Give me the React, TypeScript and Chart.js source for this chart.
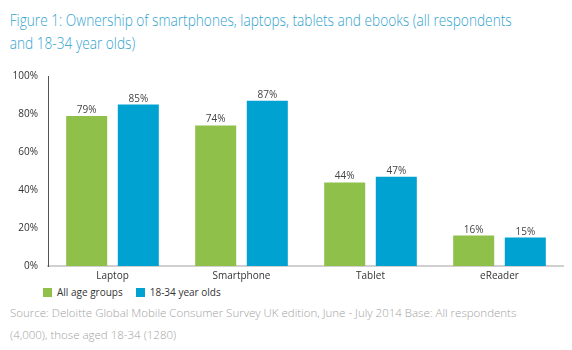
import React, { useEffect, useLayoutEffect, useRef, useState } from "react";
import { Chart, registerables } from "chart.js";

Chart.register(...registerables);

const categories = ["Laptop", "Smartphone", "Tablet", "eReader"];
const allAgeGroups = [79, 74, 44, 16];
const youngAdults = [85, 87, 47, 15];
const seriesNames = ["All age groups", "18-34 year olds"];
const yTicks = [0, 20, 40, 60, 80, 100];
const titleLines = [
  "Figure 1: Ownership of smartphones, laptops, tablets and ebooks (all respondents",
  "and 18-34 year olds)",
];
const sourceText =
  "Source: Deloitte Global Mobile Consumer Survey UK edition, June - July 2014 Base: All respondents (4,000), those aged 18-34 (1280)";

const GREEN = "#8fc04a";
const BLUE = "#00a2d1";
const FONT = "'Open Sans', 'DejaVu Sans', sans-serif";
const TITLE_LINE_WIDTH = 502;

const valueLabels = {
  id: "valueLabels",
  afterDatasetsDraw(chart: any) {
    const ctx = chart.ctx;
    ctx.save();
    ctx.font = `10px ${FONT}`;
    ctx.fillStyle = "#444";
    ctx.textAlign = "center";
    ctx.textBaseline = "alphabetic";
    chart.data.datasets.forEach((ds: any, i: number) => {
      const meta = chart.getDatasetMeta(i);
      meta.data.forEach((el: any, j: number) => {
        ctx.fillText(ds.data[j] + "%", el.x, el.y - 3);
      });
    });
    ctx.restore();
  },
};

export default function App() {
  const ref = useRef<HTMLCanvasElement>(null);
  const lineRef = useRef<HTMLSpanElement>(null);
  const [scale, setScale] = useState(1);

  useLayoutEffect(() => {
    if (lineRef.current) {
      const w = lineRef.current.getBoundingClientRect().width;
      if (w > 0) setScale(TITLE_LINE_WIDTH / w);
    }
  }, []);

  useEffect(() => {
    if (!ref.current) return;
    const chart = new Chart(ref.current, {
      type: "bar",
      data: {
        labels: categories,
        datasets: [
          { label: seriesNames[0], data: allAgeGroups, backgroundColor: GREEN, categoryPercentage: 0.8, barPercentage: 0.795 },
          { label: seriesNames[1], data: youngAdults, backgroundColor: BLUE, categoryPercentage: 0.8, barPercentage: 0.795 },
        ],
      },
      options: {
        animation: false,
        responsive: true,
        maintainAspectRatio: false,
        layout: { padding: { top: 13, right: 0, left: 0, bottom: 0 } },
        plugins: { legend: { display: false }, tooltip: { enabled: false } },
        scales: {
          x: {
            grid: { display: false, drawTicks: false },
            border: { display: true, color: "#d0d0d0", width: 2 },
            ticks: { color: "#333", font: { family: FONT, size: 10 }, padding: 4 },
            afterFit: (s: any) => { s.height = 18; },
          },
          y: {
            min: 0,
            max: 100,
            afterBuildTicks: (s: any) => { s.ticks = yTicks.map((v) => ({ value: v })); },
            grid: { display: false, drawTicks: false },
            border: { display: true, color: "#555", width: 1 },
            ticks: {
              color: "#333",
              font: { family: FONT, size: 10 },
              padding: 10,
              callback: (v: any) => v + "%",
            },
            afterFit: (s: any) => { s.width = 40; },
          },
        },
      },
      plugins: [valueLabels],
    });
    return () => chart.destroy();
  }, []);

  return (
    <div style={{ fontFamily: FONT, width: 556 }}>
      <div
        style={{
          color: "#33a3cf",
          fontSize: 16.5,
          lineHeight: "23px",
          paddingLeft: 2,
          fontWeight: 300,
          whiteSpace: "nowrap",
          transform: `scaleX(${scale})`,
          transformOrigin: "left center",
        }}
      >
        <span ref={lineRef}>{titleLines[0]}</span>
        <br />
        <span>{titleLines[1]}</span>
      </div>
      <div style={{ position: "relative", width: 556, height: 224, marginTop: 6 }}>
        <canvas ref={ref} />
      </div>
      <div style={{ display: "flex", alignItems: "center", height: 16, paddingLeft: 35, fontSize: 10, color: "#333" }}>
        <span style={{ display: "inline-block", width: 9, height: 9, background: GREEN, marginRight: 5 }} />
        <span style={{ marginRight: 13 }}>{seriesNames[0]}</span>
        <span style={{ display: "inline-block", width: 9, height: 9, background: BLUE, marginRight: 5 }} />
        <span>{seriesNames[1]}</span>
      </div>
      <div style={{ color: "#a3a3a3", fontSize: 11.5, lineHeight: "22px", paddingLeft: 2, marginTop: 2, fontWeight: 300, width: 512 }}>
        {sourceText}
      </div>
    </div>
  );
}
